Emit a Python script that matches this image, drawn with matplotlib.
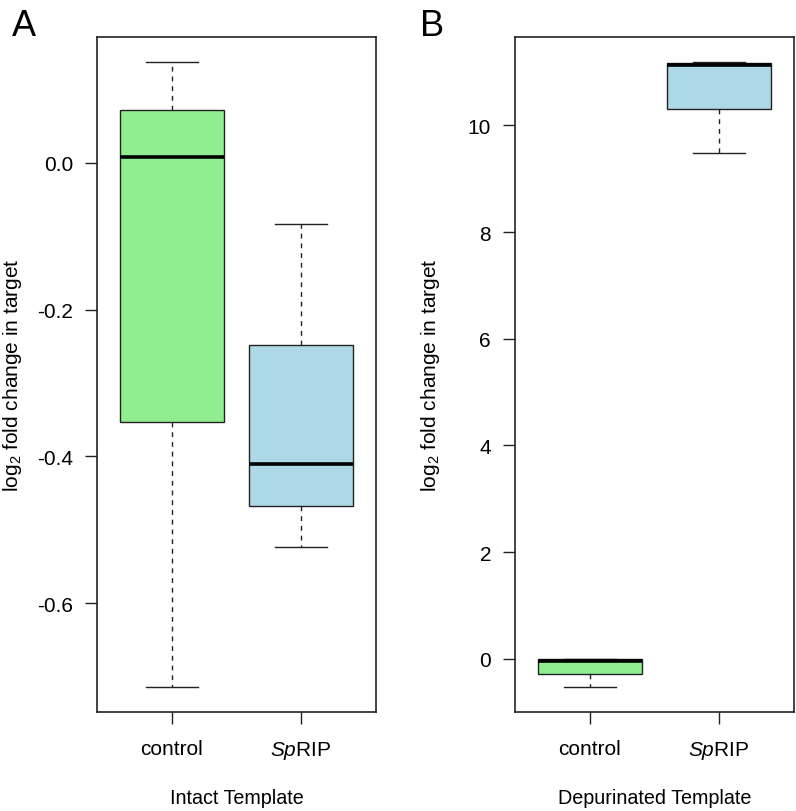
import matplotlib
matplotlib.use("Agg")
import matplotlib.pyplot as plt

plt.rcParams["font.family"] = ["Liberation Sans", "DejaVu Sans"]
plt.rcParams["mathtext.fontset"] = "custom"
plt.rcParams["mathtext.rm"] = "Liberation Sans"
plt.rcParams["mathtext.it"] = "Liberation Sans:italic"
plt.rcParams["axes.unicode_minus"] = False

# box statistics (whisker low, q1, median, q3, whisker high)
groups = ["control", r"$\mathit{Sp}$RIP"]
box_colors = ["#90EE90", "#ADD8E6"]

intact_whislo = [-0.714, -0.523]
intact_q1 = [-0.353, -0.468]
intact_med = [0.007, -0.411]
intact_q3 = [0.072, -0.248]
intact_whishi = [0.137, -0.083]
intact_yticks = [0.0, -0.2, -0.4, -0.6]

depur_whislo = [-0.53, 9.48]
depur_q1 = [-0.28, 10.31]
depur_med = [-0.04, 11.14]
depur_q3 = [-0.01, 11.17]
depur_whishi = [0.0, 11.19]
depur_yticks = [0, 2, 4, 6, 8, 10]

FS = 15
EDGE = "#222222"


def draw_panel(ax, whislo, q1, med, q3, whishi, yticks, fmt, xlabel, letter, letter_x):
    stats = []
    for i in range(len(groups)):
        stats.append(dict(whislo=whislo[i], q1=q1[i], med=med[i],
                          q3=q3[i], whishi=whishi[i], fliers=[]))
    pos = list(range(1, len(groups) + 1))
    bp = ax.bxp(stats, positions=pos, widths=0.8, capwidths=0.4,
                patch_artist=True, showfliers=False,
                boxprops=dict(edgecolor=EDGE, linewidth=1.0),
                medianprops=dict(color="black", linewidth=2.6, solid_capstyle="butt"),
                whiskerprops=dict(color=EDGE, linewidth=1.0, linestyle=(0, (3.5, 3.5))),
                capprops=dict(color=EDGE, linewidth=1.0))
    for patch, c in zip(bp["boxes"], box_colors):
        patch.set_facecolor(c)

    # R style 4% padding
    lo, hi = min(whislo), max(whishi)
    pad = 0.04 * (hi - lo)
    ax.set_ylim(lo - pad, hi + pad)
    ax.set_xlim(0.5 - 0.08, len(groups) + 0.5 + 0.08)

    ax.set_yticks(yticks)
    ax.set_yticklabels([fmt.format(v) for v in yticks])
    ax.set_xticks(pos)
    ax.set_xticklabels(groups)
    ax.tick_params(axis="y", length=8.6, width=1.0, pad=8.6, labelsize=FS, color=EDGE)
    ax.tick_params(axis="x", length=8.6, width=1.0, pad=11, labelsize=FS, color=EDGE)
    for s in ax.spines.values():
        s.set_linewidth(1.2)
        s.set_color(EDGE)

    ax.set_ylabel(r"log$_2$ fold change in target", fontsize=FS)
    ax.yaxis.set_label_coords(-0.26, 0.5)
    ax.set_xlabel(xlabel, fontsize=14.2)
    ax.xaxis.set_label_coords(0.5, -0.112)
    ax.text(letter_x, 1.003, letter, transform=ax.transAxes, fontsize=26,
            ha="left", va="baseline")


fig = plt.figure(figsize=(7.96, 8.12), dpi=100)
ax1 = fig.add_axes([0.1219, 0.1219, 0.3505, 0.8313])
ax2 = fig.add_axes([0.6470, 0.1219, 0.3505, 0.8313])

draw_panel(ax1, intact_whislo, intact_q1, intact_med, intact_q3, intact_whishi,
           intact_yticks, "{:.1f}", "Intact Template", "A", -0.305)
draw_panel(ax2, depur_whislo, depur_q1, depur_med, depur_q3, depur_whishi,
           depur_yticks, "{:d}", "Depurinated Template", "B", -0.34)

fig.savefig("out.png", dpi=100)
